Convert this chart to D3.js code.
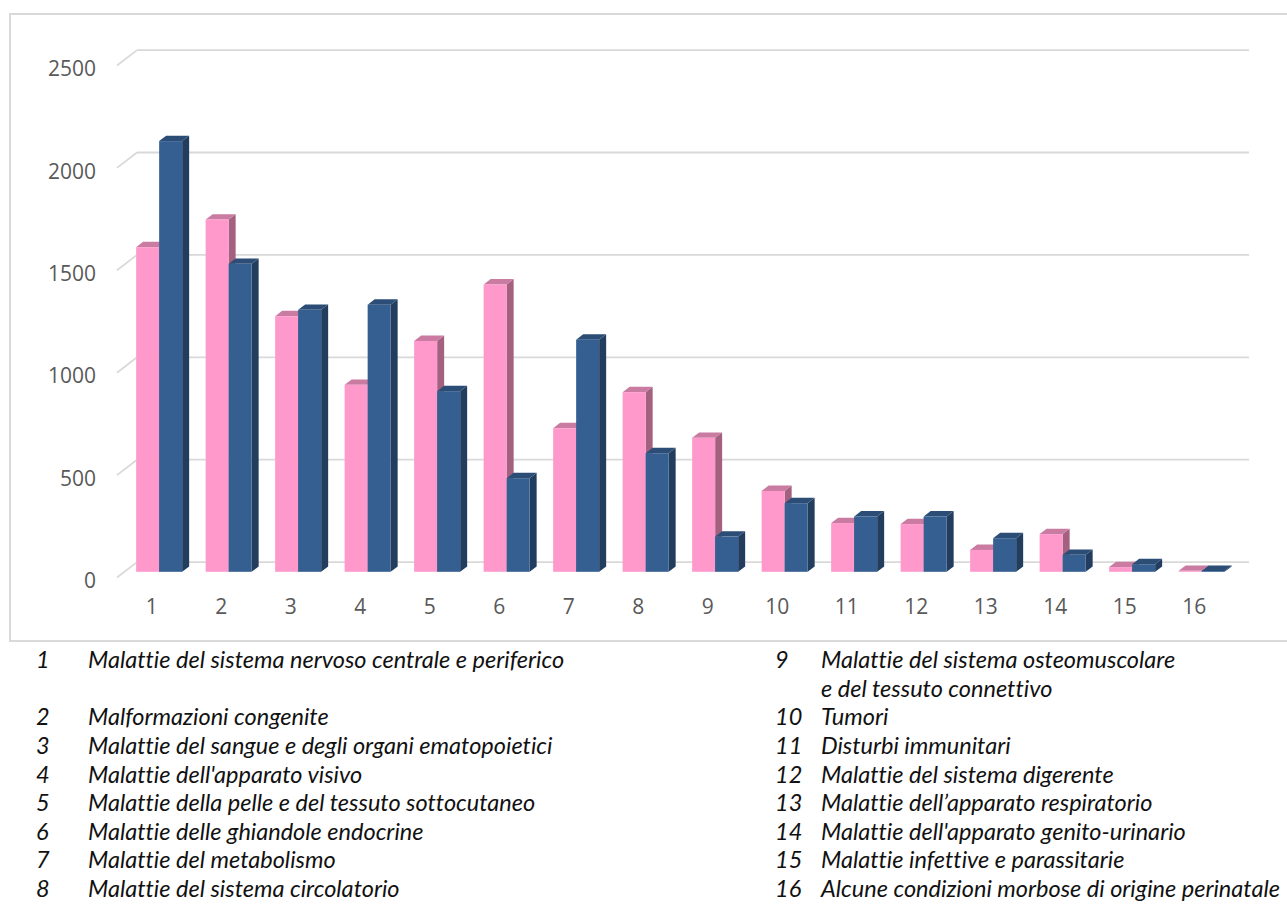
<!DOCTYPE html>
<html>
<head>
  <meta charset="utf-8">
  <script src="https://d3js.org/d3.v7.min.js"></script>
  <style>
    body { margin: 0; background: #fff; }
    .axis text { font-family: "Open Sans", sans-serif; font-size: 21px; fill: #595959; }
    .legend text { font-family: Lato, sans-serif; font-style: italic; font-size: 23.5px; fill: #111;
                   font-variant-ligatures: none; }
  </style>
</head>
<body>
<script>
  // categories 1..16, two series (pink / blue)
  var categories = ["1","2","3","4","5","6","7","8","9","10","11","12","13","14","15","16"];
  var seriesNames = ["pink", "blue"];
  var pinkValues = [1585, 1720, 1248, 913, 1127, 1403, 701, 877, 654, 395, 238, 233, 107, 184, 23, 5];
  var blueValues = [2103, 1504, 1279, 1304, 882, 457, 1133, 579, 172, 335, 270, 270, 164, 83, 37, 4];
  var yTicks = [0, 500, 1000, 1500, 2000, 2500];

  var legendLeft = [
    ["1", "Malattie del sistema nervoso centrale e periferico"],
    ["", ""],
    ["2", "Malformazioni congenite"],
    ["3", "Malattie del sangue e degli organi ematopoietici"],
    ["4", "Malattie dell'apparato visivo"],
    ["5", "Malattie della pelle e del tessuto sottocutaneo"],
    ["6", "Malattie delle ghiandole endocrine"],
    ["7", "Malattie del metabolismo"],
    ["8", "Malattie del sistema circolatorio"]
  ];
  var legendRight = [
    ["9", "Malattie del sistema osteomuscolare"],
    ["", "e del tessuto connettivo"],
    ["10", "Tumori"],
    ["11", "Disturbi immunitari"],
    ["12", "Malattie del sistema digerente"],
    ["13", "Malattie dell\u2019apparato respiratorio"],
    ["14", "Malattie dell'apparato genito-urinario"],
    ["15", "Malattie infettive e parassitarie"],
    ["16", "Alcune condizioni morbose di origine perinatale"]
  ];

  var W = 1287, H = 904;
  var svg = d3.select("body").append("svg")
      .attr("width", W).attr("height", H);

  // chart frame
  svg.append("rect")
      .attr("x", 10).attr("y", 14)
      .attr("width", 1300).attr("height", 627)
      .attr("fill", "none").attr("stroke", "#d9d9d9").attr("stroke-width", 2);

  // 3d depth vector (front plane -> back wall)
  var depth = {x: 20, y: -15.4};
  var f1 = 0.37, f2 = 0.72;   // bar front / back as share of depth

  var x = d3.scaleBand().domain(categories)
      .range([117, 1229]).paddingInner(0.338).paddingOuter(0.169);
  var xs = d3.scaleBand().domain(seriesNames).range([0, x.bandwidth()]);
  var y = d3.scaleLinear().domain([0, 2500]).range([577.5, 65.5]);

  // gridlines on back wall + side wall diagonal
  var grid = svg.append("g");
  yTicks.forEach(function(t) {
    grid.append("line")
      .attr("x1", x.range()[0] + depth.x).attr("x2", x.range()[1] + depth.x)
      .attr("y1", y(t) + depth.y).attr("y2", y(t) + depth.y)
      .attr("stroke", "#d9d9d9").attr("stroke-width", 1.8);
    grid.append("line")
      .attr("x1", x.range()[0]).attr("x2", x.range()[0] + depth.x)
      .attr("y1", y(t)).attr("y2", y(t) + depth.y)
      .attr("stroke", "#d9d9d9").attr("stroke-width", 1.8);
  });

  var colors = {
    pink: {front: "#ff99cc", top: "#c97ba1", side: "#a3617f"},
    blue: {front: "#355f91", top: "#2b4d76", side: "#223d5e"}
  };

  var data = [];
  categories.forEach(function(c, i) {
    data.push({cat: c, s: "pink", v: pinkValues[i]});
    data.push({cat: c, s: "blue", v: blueValues[i]});
  });

  var ox = depth.x * f1, oy = depth.y * f1;
  var dx = depth.x * (f2 - f1), dy = depth.y * (f2 - f1);

  var bars = svg.append("g").selectAll("g")
    .data(data).enter().append("g");

  bars.each(function(d) {
    var g = d3.select(this);
    var x0 = x(d.cat) + xs(d.s) + ox, w = xs.bandwidth();
    var yt = y(d.v) + oy, yb = y(0) + oy;
    var c = colors[d.s];
    // side face
    g.append("path")
      .attr("d", "M" + (x0 + w) + "," + yt + "L" + (x0 + w + dx) + "," + (yt + dy) +
                 "L" + (x0 + w + dx) + "," + (yb + dy) + "L" + (x0 + w) + "," + yb + "Z")
      .attr("fill", c.side);
    // top face
    g.append("path")
      .attr("d", "M" + x0 + "," + yt + "L" + (x0 + w) + "," + yt +
                 "L" + (x0 + w + dx) + "," + (yt + dy) + "L" + (x0 + dx) + "," + (yt + dy) + "Z")
      .attr("fill", c.top);
    // front face
    g.append("rect")
      .attr("x", x0).attr("y", yt)
      .attr("width", w).attr("height", Math.max(0, yb - yt))
      .attr("fill", c.front);
  });

  // axes (labels only)
  var yAxis = svg.append("g").attr("class", "axis")
      .attr("transform", "translate(117,3.5)")
      .call(d3.axisLeft(y).tickValues(yTicks).tickFormat(d3.format("d"))
        .tickSize(0).tickPadding(21));
  yAxis.select(".domain").remove();

  var xAxis = svg.append("g").attr("class", "axis")
      .attr("transform", "translate(0," + y(0) + ")")
      .call(d3.axisBottom(x).tickSize(0).tickPadding(22));
  xAxis.select(".domain").remove();

  // legend of categories
  function drawLegend(rows, xNum, xText) {
    var lg = svg.append("g").attr("class", "legend");
    rows.forEach(function(r, i) {
      var yy = 660 + i * 28.6;
      lg.append("text").attr("x", xNum).attr("y", yy).attr("dy", "0.35em").text(r[0]);
      lg.append("text").attr("x", xText).attr("y", yy).attr("dy", "0.35em").text(r[1]);
    });
  }
  drawLegend(legendLeft, 36, 88);
  drawLegend(legendRight, 775, 821);
</script>
</body>
</html>
